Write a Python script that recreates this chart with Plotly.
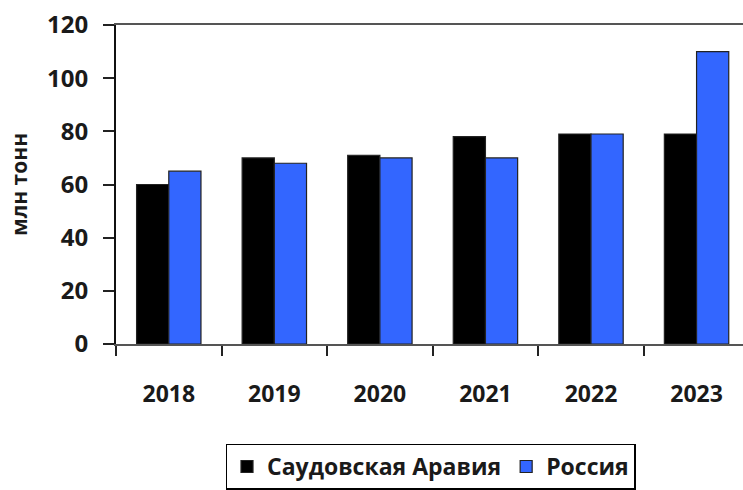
import plotly.graph_objects as go

years = ["2018", "2019", "2020", "2021", "2022", "2023"]
saudi = [60, 70, 71, 78, 79, 79]
russia = [65, 68, 70, 70, 79, 110]
y_ticks = [0, 20, 40, 60, 80, 100, 120]

text_color = "#1a1a1a"

fig = go.Figure()
fig.add_trace(go.Bar(x=years, y=saudi, name="Саудовская Аравия",
                     marker=dict(color="#000000", line=dict(color="#222222", width=1.2))))
fig.add_trace(go.Bar(x=years, y=russia, name="Россия",
                     marker=dict(color="#3366ff", line=dict(color="#222222", width=1.2))))

fig.update_layout(
    width=743, height=490,
    margin=dict(l=116, r=0, t=25, b=135),
    plot_bgcolor="white", paper_bgcolor="white",
    barmode="group", bargap=0.39, bargroupgap=0,
    font=dict(family="Open Sans", size=18, color=text_color),
    showlegend=True,
    legend=dict(orientation="h", x=0.5016, xanchor="center", y=-0.312, yanchor="top",
                bordercolor="#000000", borderwidth=1.5,
                font=dict(family="Open Sans", size=23, color=text_color, weight="bold"),
                itemwidth=30, traceorder="normal"),
)
fig.update_xaxes(
    type="category", range=[-0.5, 5.44], automargin=False,
    showline=True, linecolor="#555555", linewidth=2, mirror=True,
    ticks="outside", tickson="boundaries", ticklen=10, tickcolor="#222222", tickwidth=2,
    tickfont=dict(family="Open Sans", size=23, color=text_color, weight="bold"),
    showgrid=False, ticklabelstandoff=28,
)
fig.update_yaxes(
    range=[0, 120], tickvals=y_ticks, automargin=False,
    showline=True, linecolor="#111111", linewidth=2,
    ticks="outside", ticklen=11, tickcolor="#222222", tickwidth=2,
    tickfont=dict(family="Open Sans", size=24, color=text_color, weight="bold"),
    showgrid=False, zeroline=False, ticklabelstandoff=10, ticklabeloverflow="allow",
    title=dict(text="млн тонн", font=dict(family="Open Sans", size=21, color=text_color, weight="bold"),
               standoff=14),
)

# no page margin and no inline-block gap under the plot, so the page is exactly 743x490
page_js = ("document.documentElement.style.overflow='hidden';"
           "document.body.style.margin='0';document.body.style.overflow='hidden';"
           "document.body.style.fontSize='0';document.body.style.lineHeight='0';")
fig.write_html("out.html", config={"displayModeBar": False}, post_script=page_js)
